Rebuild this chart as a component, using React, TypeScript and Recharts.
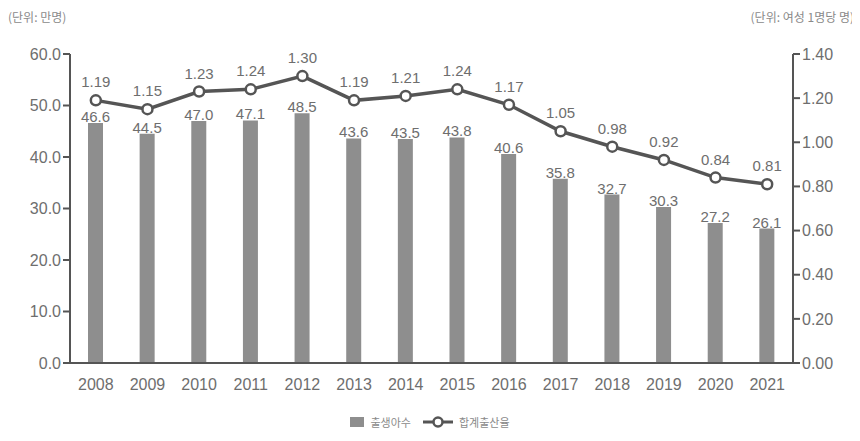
import React from 'react';
import { ComposedChart, Bar, Line, XAxis, YAxis, Legend, LabelList } from 'recharts';

const years = ['2008', '2009', '2010', '2011', '2012', '2013', '2014', '2015', '2016', '2017', '2018', '2019', '2020', '2021'];
const births = [46.6, 44.5, 47.0, 47.1, 48.5, 43.6, 43.5, 43.8, 40.6, 35.8, 32.7, 30.3, 27.2, 26.1];
const fertility = [1.19, 1.15, 1.23, 1.24, 1.3, 1.19, 1.21, 1.24, 1.17, 1.05, 0.98, 0.92, 0.84, 0.81];
const leftTicks = [0, 10, 20, 30, 40, 50, 60];
const rightTicks = [0, 0.2, 0.4, 0.6, 0.8, 1.0, 1.2, 1.4];

const data = years.map((year, i) => ({ year, births: births[i], rate: fertility[i] }));

const FONT = "'Liberation Sans', Arial, 'Noto Sans CJK KR', sans-serif";
const KFONT = "'Noto Sans CJK KR', sans-serif";
const TEXT = '#6e6e6e';
const BAR = '#8e8e8e';
const LINE = '#555555';

const LegendContent = () => (
  <div style={{ display: 'flex', justifyContent: 'center', alignItems: 'center', fontFamily: KFONT, fontSize: 11, color: '#8a8a8a' }}>
    <span style={{ display: 'inline-block', width: 14, height: 10, background: BAR, marginRight: 6 }} />
    <span style={{ marginRight: 12 }}>출생아수</span>
    <svg width={30} height={12} style={{ marginRight: 6 }}>
      <line x1={0} y1={6} x2={30} y2={6} stroke={LINE} strokeWidth={3} />
      <circle cx={15} cy={6} r={4.5} fill="#fff" stroke={LINE} strokeWidth={2.5} />
    </svg>
    <span>합계출산율</span>
  </div>
);

export default function App() {
  return (
    <div style={{ position: 'relative', width: 860, height: 441, margin: -8, background: '#fff', fontFamily: FONT }}>
      <div style={{ position: 'absolute', left: 8, top: 8, fontSize: 12, color: '#8a8a8a', fontFamily: KFONT, whiteSpace: 'nowrap' }}>(단위: 만명)</div>
      <div style={{ position: 'absolute', right: 6, top: 8, fontSize: 12, color: '#8a8a8a', fontFamily: KFONT, whiteSpace: 'nowrap' }}>(단위: 여성 1명당 명)</div>
      <ComposedChart width={860} height={441} data={data} margin={{ top: 54, right: 0, left: 0, bottom: 48 }}>
        <XAxis
          dataKey="year"
          stroke={LINE}
          strokeWidth={2}
          tickLine={false}
          tick={{ fill: TEXT, fontSize: 16 }}
          tickMargin={10}
        />
        <YAxis
          yAxisId="left"
          domain={[0, 60]}
          ticks={leftTicks}
          width={70}
          stroke={LINE}
          strokeWidth={2}
          tickSize={7}
          tick={{ fill: TEXT, fontSize: 16 }}
          tickFormatter={(v: number) => v.toFixed(1)}
        />
        <YAxis
          yAxisId="right"
          orientation="right"
          domain={[0, 1.4]}
          ticks={rightTicks}
          width={67}
          stroke={LINE}
          strokeWidth={2}
          tickSize={7}
          tick={{ fill: TEXT, fontSize: 16 }}
          tickFormatter={(v: number) => v.toFixed(2)}
        />
        <Bar yAxisId="left" dataKey="births" fill={BAR} barSize={15} isAnimationActive={false}>
          <LabelList dataKey="births" position="top" offset={1} fill={TEXT} fontSize={15} formatter={(v: number) => v.toFixed(1)} />
        </Bar>
        <Line
          yAxisId="right"
          dataKey="rate"
          stroke={LINE}
          strokeWidth={3.5}
          dot={{ r: 5, fill: '#fff', stroke: LINE, strokeWidth: 2.5 }}
          isAnimationActive={false}
        >
          <LabelList dataKey="rate" position="top" offset={13} fill={TEXT} fontSize={15} formatter={(v: number) => v.toFixed(2)} />
        </Line>
        <Legend verticalAlign="middle" align="center" wrapperStyle={{ top: 414, left: 0, width: 860 }} content={<LegendContent />} />
      </ComposedChart>
    </div>
  );
}
